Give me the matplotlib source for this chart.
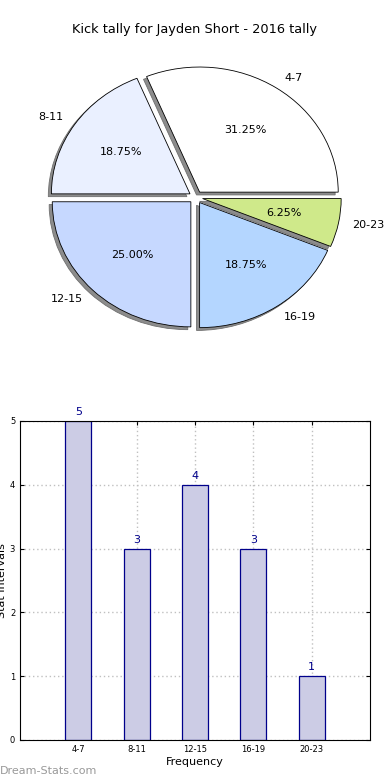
import matplotlib
matplotlib.use("Agg")
import matplotlib.pyplot as plt
from matplotlib.patches import Shadow

# данные
intervals = ["4-7", "8-11", "12-15", "16-19", "20-23"]
counts = [5, 3, 4, 3, 1]
pie_colors = ["#ffffff", "#eaf0ff", "#c6d8ff", "#b4d6ff", "#cfe98a"]

fig = plt.figure(figsize=(3.9, 7.8), dpi=100)
fig.text(0.5, 0.962, "Kick tally for Jayden Short - 2016 tally", ha="center", va="center", fontsize=9.3)

# круговая диаграмма
ax1 = fig.add_axes([0.0577, 0.5465, 0.8885, 0.401])
wedges, texts, autotexts = ax1.pie(counts, labels=intervals, colors=pie_colors, autopct="%1.2f%%",
                                   explode=[0.05] * 5, startangle=0,
                                   shadow={"ox": -0.016, "oy": -0.016},
                                   wedgeprops={"edgecolor": "black", "linewidth": 0.6},
                                   textprops={"fontsize": 8})
# тени сплошные серые, как в оригинале
for p in ax1.patches:
    if isinstance(p, Shadow):
        p.set_alpha(1)
        p.set_facecolor("#8c8c8c")
        p.set_edgecolor("#707070")
ax1.set_aspect("auto")
ax1.set_xlim(-1.25, 1.25)
ax1.set_ylim(-1.25, 1.25)
ax1.axis("off")

# гистограмма
ax2 = fig.add_axes([0.0513, 0.0513, 0.8974, 0.409])
x = list(range(len(intervals)))
ax2.bar(x, counts, width=0.45, color="#ccccE5", edgecolor="#00008b", linewidth=0.9, zorder=2)
for xi, c in zip(x, counts):
    ax2.text(xi, c + 0.06, str(c), ha="center", va="bottom", color="#00008b", fontsize=8)
ax2.set_xlim(-1, 5)
ax2.set_ylim(0, 5)
ax2.set_xticks(x)
ax2.set_xticklabels(intervals, fontsize=6)
ax2.set_yticks(range(6))
ax2.tick_params(axis="y", labelsize=6, direction="in", length=3, right=True)
ax2.tick_params(axis="x", direction="in", length=3, top=True)
ax2.grid(True, color="#c0c0c0", linestyle=(0, (1, 2)), linewidth=1)
ax2.set_xlabel("Frequency", fontsize=8, labelpad=2)
ax2.set_ylabel("Stat Intervals", fontsize=8, labelpad=2)

fig.text(0.0, 0.005, "Dream-Stats.com", color="#999999", fontsize=8, ha="left", va="bottom")

fig.savefig("out.png", dpi=100)
